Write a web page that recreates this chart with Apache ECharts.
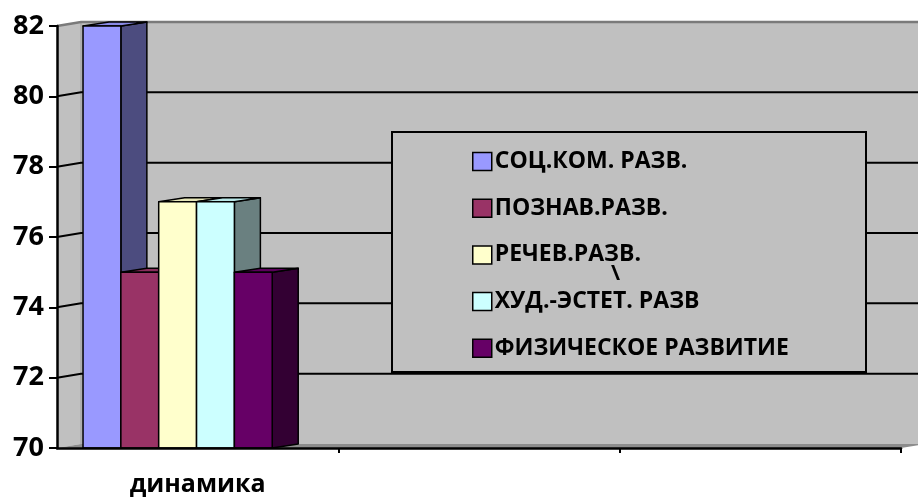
<!DOCTYPE html>
<html>
<head>
<meta charset="utf-8">
<script src="https://cdn.jsdelivr.net/npm/echarts@6/dist/echarts.min.js"></script>
<style>
html, body { margin: 0; padding: 0; background: #fff; }
#chart { width: 918px; height: 497px; }
</style>
</head>
<body>
<div id="chart"></div>
<script>
// data
const categories = ['динамика', '', ''];
const seriesNames = ['СОЦ.КОМ. РАЗВ.', 'ПОЗНАВ.РАЗВ.', 'РЕЧЕВ.РАЗВ.', 'ХУД.-ЭСТЕТ. РАЗВ', 'ФИЗИЧЕСКОЕ РАЗВИТИЕ'];
const values = [82, 75, 77, 77, 75]; // all for "динамика"
const yTicks = [70, 72, 74, 76, 78, 80, 82];

const frontColors = ['#9999ff', '#993366', '#ffffcc', '#ccffff', '#660066'];
const topColors = ['#8a8ae6', '#8a2e5c', '#e6e6b8', '#b8e6e6', '#5c005c'];
const sideColors = ['#4c4c7f', '#4c1933', '#7f7f66', '#6a8080', '#330033'];

const FONT = 'Open Sans';
const WALL_DX = 24, WALL_DY = -4;   // depth of the walls
const BAR_DX = 26, BAR_DY = -4;     // depth of the columns
const BAR_FRAC = 0.1345;            // column width as part of a category
const GROUP_OFFSET = 0.4075;        // from category centre to first column

const yMin = yTicks[0], yMax = yTicks[yTicks.length - 1];

const chart = echarts.init(document.getElementById('chart'));

function wallRender(params, api) {
  const band = api.size([1, 0])[0];
  const left = api.coord([0, yMin])[0] - band / 2;
  const right = api.coord([categories.length - 1, yMin])[0] + band / 2;
  const yb = api.coord([0, yMin])[1];
  const yt = api.coord([0, yMax])[1];
  const kids = [];
  // back wall
  kids.push({ type: 'rect', shape: { x: left + WALL_DX, y: yt + WALL_DY, width: right - left, height: yb - yt },
    style: { fill: '#c0c0c0' } });
  // left wall
  kids.push({ type: 'polygon', shape: { points: [[left, yt], [left + WALL_DX, yt + WALL_DY], [left + WALL_DX, yb + WALL_DY], [left, yb]] },
    style: { fill: '#c0c0c0' } });
  kids.push({ type: 'line', shape: { x1: left + WALL_DX, y1: yt + WALL_DY, x2: left + WALL_DX, y2: yb + WALL_DY },
    style: { stroke: '#a8a8a8', lineWidth: 1.5 } });
  // floor
  kids.push({ type: 'polygon', shape: { points: [[left, yb], [left + WALL_DX, yb + WALL_DY], [right + WALL_DX, yb + WALL_DY], [right, yb]] },
    style: { fill: '#8c8c8c' } });
  // top edge
  kids.push({ type: 'polyline', shape: { points: [[left, yt], [left + WALL_DX, yt + WALL_DY], [right + WALL_DX, yt + WALL_DY]] },
    style: { stroke: '#7a7a7a', lineWidth: 2.5, fill: null } });
  // grid lines
  yTicks.slice(1, -1).forEach(function (v) {
    const y = api.coord([0, v])[1];
    kids.push({ type: 'polyline', shape: { points: [[left, y], [left + WALL_DX, y + WALL_DY], [right + WALL_DX, y + WALL_DY]] },
      style: { stroke: '#000', lineWidth: 2, fill: null } });
  });
  return { type: 'group', children: kids };
}

function barRender(i) {
  return function (params, api) {
    const c = api.coord([api.value(0), api.value(1)]);
    const b = api.coord([api.value(0), yMin]);
    const band = api.size([1, 0])[0];
    const w = band * BAR_FRAC;
    const x0 = c[0] - band * GROUP_OFFSET + i * w;
    const x1 = x0 + w;
    const yt = c[1], yb = b[1];
    const st = { stroke: '#000', lineWidth: 1.5, lineJoin: 'round' };
    return { type: 'group', children: [
      { type: 'polygon', shape: { points: [[x1, yt], [x1 + BAR_DX, yt + BAR_DY], [x1 + BAR_DX, yb + BAR_DY], [x1, yb]] },
        style: Object.assign({ fill: sideColors[i] }, st) },
      { type: 'polygon', shape: { points: [[x0, yt], [x0 + BAR_DX, yt + BAR_DY], [x1 + BAR_DX, yt + BAR_DY], [x1, yt]] },
        style: Object.assign({ fill: topColors[i] }, st) },
      { type: 'rect', shape: { x: x0, y: yt, width: w, height: yb - yt },
        style: Object.assign({ fill: frontColors[i] }, st) }
    ] };
  };
}

const series = [{
  type: 'custom',
  name: 'walls',
  silent: true,
  z: 1,
  renderItem: wallRender,
  data: [[0, yMin]]
}];
seriesNames.forEach(function (name, i) {
  series.push({
    type: 'custom',
    name: name,
    z: 3 + i,
    itemStyle: { color: frontColors[i] },
    renderItem: barRender(i),
    encode: { x: 0, y: 1 },
    data: [[categories[0], values[i]]]
  });
});

const option = {
  animation: false,
  backgroundColor: '#fff',
  grid: { left: 57, right: 17, top: 26, bottom: 49 },
  xAxis: {
    type: 'category',
    data: categories,
    z: 10,
    axisLine: { lineStyle: { color: '#000', width: 2.5 } },
    axisTick: {
      show: true, length: 5, lineStyle: { color: '#000', width: 2 },
      interval: function (idx) { return idx > 0 && idx < categories.length; }
    },
    axisLabel: { color: '#000', fontFamily: FONT, fontWeight: 'bold', fontSize: 25, margin: 24 }
  },
  yAxis: {
    type: 'value',
    min: yMin,
    max: yMax,
    interval: 2,
    z: 10,
    axisLine: { show: true, lineStyle: { color: '#000', width: 2.5 } },
    axisTick: { show: true, length: 8, lineStyle: { color: '#000', width: 2 } },
    splitLine: { show: false },
    axisLabel: { color: '#000', fontFamily: FONT, fontWeight: 'bold', fontSize: 27, margin: 13 }
  },
  legend: {
    orient: 'vertical',
    left: 467,
    top: 145,
    z: 60,
    icon: 'rect',
    itemWidth: 19,
    itemHeight: 18,
    itemGap: 23.7,
    data: seriesNames,
    itemStyle: { borderColor: '#000', borderWidth: 1.5 },
    textStyle: { color: '#000', fontFamily: FONT, fontWeight: 'bold', fontSize: 23, lineHeight: 23, padding: [0, 0, 0, -2] }
  },
  graphic: [
    { type: 'rect', z: 50, shape: { x: 392, y: 132, width: 474, height: 240 },
      style: { fill: '#c0c0c0', stroke: '#000', lineWidth: 2 } },
    { type: 'text', z: 70, left: 611, top: 263,
      style: { text: '\\', fill: '#000', font: 'bold 22px "' + FONT + '"' } }
  ],
  series: series
};
chart.setOption(option);
</script>
</body>
</html>
